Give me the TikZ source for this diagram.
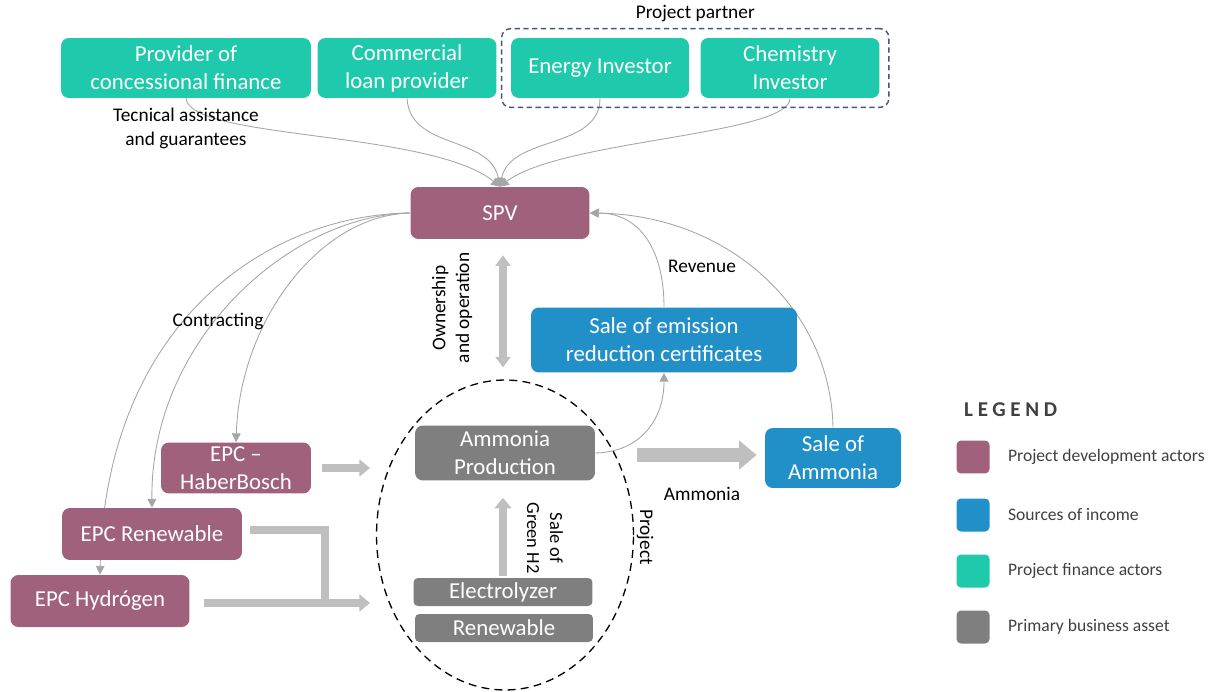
\documentclass[tikz,border=0pt]{standalone}
\usepackage{fontspec}
\setmainfont{Carlito}
\usetikzlibrary{arrows.meta, positioning, shapes.geometric, fit, calc, backgrounds}
\definecolor{devpurple}{RGB}{160,97,124}
\definecolor{incblue}{RGB}{33,144,201}
\definecolor{finteal}{RGB}{31,201,172}
\definecolor{assetgray}{RGB}{127,127,127}
\definecolor{partnerblue}{RGB}{68,84,130}
\definecolor{legtext}{RGB}{64,64,64}

\begin{document}
\begin{tikzpicture}[
    x=0.02cm, y=-0.02cm,
    font=\fontsize{11}{13.5}\selectfont,
    box/.style={rounded corners=4.5pt, align=center, text=white, inner sep=2pt, font=\fontsize{13}{16}\selectfont},
    finbox/.style={box, fill=finteal, minimum height=1.2cm},
    devbox/.style={box, fill=devpurple, minimum height=1.04cm},
    incbox/.style={box, fill=incblue},
    assetbox/.style={box, fill=assetgray},
    flow/.style={-{Triangle[width=5pt,length=5pt]}, draw=gray!70, line width=0.5pt},
    fat/.style={draw=gray!50, line width=4.5pt},
    fatarrow/.style={fat, -{Triangle[width=9.5pt,length=6pt]}},
    legsq/.style={rounded corners=2.5pt, minimum size=0.66cm, inner sep=0pt},
]
\useasboundingbox (0,0) rectangle (1209,692);

% ── Financiadores ──────────────────────────
\node[finbox, minimum width=5cm]    (prov) at (186,68) {Provider of\\concessional finance};
\node[finbox, minimum width=3.58cm] (comm) at (407,68) {Commercial\\loan provider};
\node[finbox, minimum width=3.56cm] (einv) at (600,68) {Energy Investor};
\node[finbox, minimum width=3.58cm] (cinv) at (790,68) {Chemistry\\Investor};
\node[draw=partnerblue, line width=0.8pt, dash pattern=on 3pt off 2pt, rounded corners=5pt, inner sep=0.18cm, fit=(einv)(cinv)] (partners) {};
\node[above=0pt of partners] (partnerlbl) {Project partner};
\node[below=2pt of prov, align=center] (techlbl) {Tecnical assistance\\and guarantees};

% ── SPV e receitas ─────────────────────────
\node[devbox, minimum width=3.58cm] (spv) at (500,213) {SPV};
\node[incbox, minimum width=5.32cm, minimum height=1.3cm] (certs) at (664,340) {Sale of emission\\reduction certificates};
\node[incbox, minimum width=2.72cm, minimum height=1.2cm] (salenh) at (833,458) {Sale of\\Ammonia};

% ── Projeto ────────────────────────────────
\node[assetbox, minimum width=3.6cm, minimum height=1.1cm] (ammprod) at (505,453) {Ammonia\\Production};
\node[assetbox, minimum width=3.58cm, minimum height=0.56cm, rounded corners=2.5pt] (elec)  at (503,592) {Electrolyzer};
\node[assetbox, minimum width=3.56cm, minimum height=0.56cm, rounded corners=2.5pt] (renew) at (504,628) {Renewable};
\node[ellipse, draw, dash pattern=on 4.5pt off 3pt, line width=0.75pt, minimum width=5.14cm, minimum height=6.2cm, inner sep=0pt] (proj) at (505,535) {};

% ── EPCs ───────────────────────────────────
\node[devbox, minimum width=3cm, minimum height=1.02cm] (epchb) at (236,468) {EPC --\\HaberBosch};
\node[devbox, minimum width=3.6cm]  (epcren) at (152,534) {EPC Renewable};
\node[devbox, minimum width=3.58cm] (epch2)  at (100,601) {EPC Hydrógen};

% Rótulos
\node (contractlbl) at (218,321) {Contracting};
\node (revlbl) at (702,266) {Revenue};
\node (nh3lbl) at (702,494) {Ammonia};
\node[rotate=-90] (projlbl) at (645,537) {Project};
\node[rotate=-90, align=center, font=\fontsize{10.5}{13}\selectfont] (h2lbl) at (545,538) {Sale of\\Green H2};
\node[rotate=90, align=center] (ownlbl) at (452,308) {Ownership\\and operation};

% Setas finas
\begin{scope}[on background layer]
\draw[flow] (prov.south) .. controls (190,140) and (430,130) .. (spv.north);
\draw[flow] (comm.south) .. controls (410,150) and (490,135) .. (spv.north);
\draw[flow] (einv.south) .. controls (600,150) and (510,135) .. (spv.north);
\draw[flow] (cinv.south) .. controls (790,135) and (560,140) .. (spv.north);
\draw[flow] (spv.west) .. controls (320,215) and (240,320) .. (epchb.north);
\draw[flow] (spv.west) .. controls (290,215) and (150,340) .. (epcren.north);
\draw[flow] (spv.west) .. controls (260,215) and (105,330) .. (epch2.north);
\draw[flow] (certs.north) .. controls (664,250) and (640,213) .. (spv.east);
\draw[flow] (salenh.north) .. controls (831,310) and (730,215) .. (spv.east);
\draw[flow] (ammprod.east) .. controls (640,452) and (664,420) .. (certs.south);
\end{scope}

% Setas grossas
\coordinate (hbin) at (370,468);
\coordinate (h2in) at (370,603);
\coordinate (h2join) at (325,603);
\draw[fat, {Triangle[width=8.5pt,length=6pt]}-{Triangle[width=8.5pt,length=6pt]}] ($(spv.south)+(3,16)$) -- ($(spv.south)+(3,128)$);
\draw[fatarrow] ($(elec.north)+(0,-2)$) -- ($(ammprod.south -| elec.north)+(0,17)$);
\draw[fat, line width=8.5pt, -{Triangle[width=16pt,length=10pt]}] ($(ammprod.east)+(42,2)$) -- ($(salenh.west)+(-8,-3)$);
\draw[fatarrow] ($(epchb.east)+(11,0)$) -- (hbin);
\draw[fatarrow] ($(epch2.east)+(14,2)$) -- (h2in);
\draw[fat] ($(epcren.east)+(8,-4)$) -| (h2join);

% ── Legenda ────────────────────────────────
\node[font=\fontsize{12}{14}\selectfont\bfseries\addfontfeatures{LetterSpace=22}, text=legtext, anchor=west] (legtitle) at (958,410) {LEGEND};
\foreach \col/\txt/\yy [count=\i] in {devpurple/Project development actors/457, incblue/Sources of income/515, finteal/Project finance actors/571, assetgray/Primary business asset/627} {
  \node[legsq, fill=\col] (legsq\i) at (973,\yy) {};
  \node[right=0.24cm of legsq\i, font=\fontsize{10}{12}\selectfont, text=legtext] (legtxt\i) {\txt};
}

\end{tikzpicture}
\end{document}
